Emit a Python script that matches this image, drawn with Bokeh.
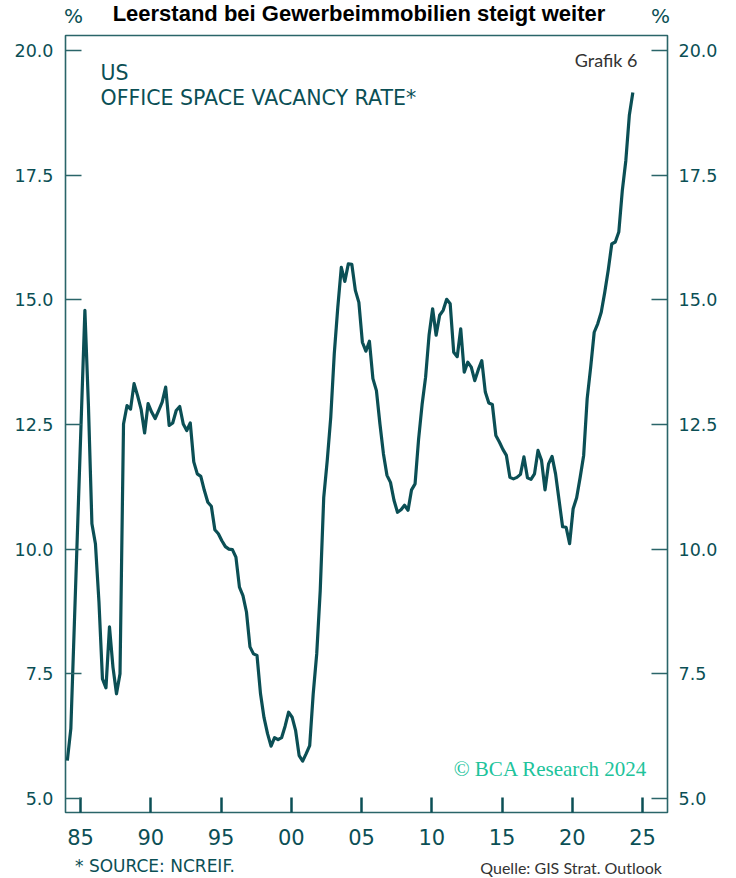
from bokeh.plotting import figure
from bokeh.models import LinearAxis, FixedTicker, PrintfTickFormatter, Label, Range1d, Div
from bokeh.layouts import column
from bokeh.embed import file_html
from bokeh.resources import INLINE
import pandas as pd

# ---------------- data ----------------
start_period = "1984Q1"
end_period = "2024Q2"
vacancy = [
    5.76, 6.40, 8.50, 10.60,      # 1984
    12.70, 14.79, 12.90, 10.51,   # 1985
    10.11, 8.95, 7.40, 7.22,      # 1986
    8.44, 7.63, 7.10, 7.50,       # 1987
    12.51, 12.88, 12.81, 13.32,   # 1988
    13.08, 12.81, 12.33, 12.92,   # 1989
    12.75, 12.62, 12.78, 12.95,   # 1990
    13.25, 12.48, 12.53, 12.78,   # 1991
    12.86, 12.51, 12.38, 12.53,   # 1992
    11.75, 11.51, 11.46, 11.18,   # 1993
    10.94, 10.86, 10.39, 10.31,   # 1994
    10.17, 10.05, 10.00, 9.99,    # 1995
    9.84, 9.24, 9.07, 8.74,       # 1996
    8.04, 7.90, 7.87, 7.10,       # 1997
    6.62, 6.30, 6.05, 6.22,       # 1998
    6.18, 6.22, 6.45, 6.73,       # 1999
    6.63, 6.36, 5.86, 5.75,       # 2000
    5.90, 6.06, 7.10, 7.90,       # 2001
    9.17, 11.04, 11.78, 12.65,    # 2002
    13.92, 14.85, 15.65, 15.37,   # 2003
    15.72, 15.71, 15.19, 14.95,   # 2004
    14.15, 13.97, 14.17, 13.42,   # 2005
    13.18, 12.51, 11.91, 11.48,   # 2006
    11.34, 10.98, 10.74, 10.79,   # 2007
    10.88, 10.78, 11.19, 11.31,   # 2008
    12.20, 12.90, 13.45, 14.30,   # 2009
    14.82, 14.29, 14.69, 14.79,   # 2010
    15.01, 14.92, 13.95, 13.86,   # 2011
    14.42, 13.55, 13.75, 13.65,   # 2012
    13.38, 13.60, 13.78, 13.15,   # 2013
    12.93, 12.90, 12.28, 12.15,   # 2014
    12.00, 11.88, 11.44, 11.41,   # 2015
    11.44, 11.50, 11.85, 11.43,   # 2016
    11.40, 11.51, 11.98, 11.78,   # 2017
    11.19, 11.71, 11.86, 11.51,   # 2018
    10.98, 10.45, 10.44, 10.11,   # 2019
    10.81, 11.03, 11.44, 11.88,   # 2020
    13.02, 13.65, 14.35, 14.52,   # 2021
    14.75, 15.15, 15.60, 16.12,   # 2022
    16.16, 16.36, 17.19, 17.79,   # 2023
    18.70, 19.16,                 # 2024
]
y_ticks = [5.0, 7.5, 10.0, 12.5, 15.0, 17.5, 20.0]
x_tick_years = [1985, 1990, 1995, 2000, 2005, 2010, 2015, 2020, 2025]
x_tick_labels = ["85", "90", "95", "00", "05", "10", "15", "20", "25"]

title_text = "Leerstand bei Gewerbeimmobilien steigt weiter"
unit_text = "%"
series_name = "US"
series_desc = "OFFICE SPACE VACANCY RATE*"
chart_no = "Grafik 6"
copyright_text = "© BCA Research 2024"
footnote = "* SOURCE: NCREIF."
source_text = "Quelle: GIS Strat. Outlook"

# ---------------- dates ----------------
periods = pd.period_range(start_period, end_period, freq="Q")
dates = [pr.year + (pr.quarter - 0.75) / 4.0 for pr in periods]

TEAL = "#0b4f55"
FRAME = "#2a6569"
SANS = "DejaVu Sans"

TOP_H = 26      # header strip height
BOT_H = 23      # footer strip height
FIG_H = 878 - TOP_H - BOT_H

# page px -> data (frame spans page x 65..667, page y 35..812)
def X(px):
    return 1985 + (px - 80) / 14.05

def Y(py):
    return 20 - (py - 50) / 49.8667

# ---------------- header ----------------
header_html = (
    f'<div style="position:relative;width:736px;height:{TOP_H}px;">'
    f'<span style="position:absolute;left:0;width:718px;top:1px;text-align:center;'
    f'font-family:\'Liberation Sans\';font-weight:bold;font-size:22px;line-height:25px;'
    f'color:#000;white-space:nowrap;">{title_text}</span>'
    f'<span style="position:absolute;left:64px;top:6px;font-family:\'DejaVu Sans\';'
    f'font-size:20px;line-height:20px;color:{TEAL};">{unit_text}</span>'
    f'<span style="position:absolute;left:651px;top:6px;font-family:\'DejaVu Sans\';'
    f'font-size:20px;line-height:20px;color:{TEAL};">{unit_text}</span>'
    '</div>'
)
header = Div(text=header_html, width=736, height=TOP_H, margin=0)

# ---------------- footer ----------------
footer_html = (
    f'<div style="position:relative;width:736px;height:{BOT_H}px;">'
    f'<span style="position:absolute;left:75px;top:3px;font-family:\'DejaVu Sans\';'
    f'font-size:17px;line-height:17px;color:{TEAL};white-space:nowrap;">{footnote}</span>'
    f'<span style="position:absolute;right:74px;top:5px;font-family:Lato;'
    f'font-size:16px;line-height:16px;color:#333;white-space:nowrap;">{source_text}</span>'
    '</div>'
)
footer = Div(text=footer_html, width=736, height=BOT_H, margin=0)

# ---------------- figure ----------------
p = figure(width=736, height=FIG_H,
           x_range=Range1d(X(65), X(667)), y_range=Range1d(Y(812), Y(35)),
           output_backend="svg", toolbar_location=None, title_location=None,
           min_border_left=65, min_border_right=69,
           min_border_top=35 - TOP_H, min_border_bottom=(878 - BOT_H) - 812,
           background_fill_color="white", border_fill_color="white", margin=0)

p.outline_line_color = FRAME
p.outline_line_width = 1.6
p.grid.visible = False

ya = p.yaxis[0]
ya.ticker = FixedTicker(ticks=y_ticks)
ya.formatter = PrintfTickFormatter(format="%.1f")
ya.axis_line_color = None
ya.major_tick_in = 16
ya.major_tick_out = 0
ya.minor_tick_line_color = None
ya.major_tick_line_color = FRAME
ya.major_tick_line_width = 1.6
ya.major_label_standoff = 12
ya.major_label_text_font = SANS
ya.major_label_text_font_size = "17.5px"
ya.major_label_text_color = TEAL

ra = LinearAxis(ticker=FixedTicker(ticks=y_ticks),
                formatter=PrintfTickFormatter(format="%.1f"))
ra.axis_line_color = None
ra.major_tick_in = 16
ra.major_tick_out = 0
ra.minor_tick_line_color = None
ra.major_tick_line_color = FRAME
ra.major_tick_line_width = 1.6
ra.major_label_standoff = 11
ra.major_label_text_font = SANS
ra.major_label_text_font_size = "17.5px"
ra.major_label_text_color = TEAL
p.add_layout(ra, "right")

xa = p.xaxis[0]
xa.ticker = FixedTicker(ticks=x_tick_years)
xa.major_label_overrides = {yr: lab for yr, lab in zip(x_tick_years, x_tick_labels)}
xa.axis_line_color = None
xa.major_tick_in = 15
xa.major_tick_out = 0
xa.minor_tick_line_color = None
xa.major_tick_line_color = TEAL
xa.major_tick_line_width = 2.5
xa.major_label_standoff = 16
xa.major_label_text_font = SANS
xa.major_label_text_font_size = "21px"
xa.major_label_text_color = TEAL

p.line(dates, vacancy, line_width=3.2, line_color=TEAL, line_join="round")

SHIFT = 8  # observed label baseline offset

def add_label(px, py, text, align="left", font=SANS, size="20px", color=TEAL):
    p.add_layout(Label(x=X(px), y=Y(py - SHIFT), text=text, text_align=align,
                       text_baseline="alphabetic", text_font=font,
                       text_font_size=size, text_color=color))

add_label(100, 80, series_name, size="20.5px")
add_label(100, 105.5, series_desc, size="20.5px")
add_label(637, 67, chart_no, align="right", font="Lato", size="18px", color="#333333")
add_label(647, 776, copyright_text, align="right", font="Liberation Serif",
          size="21px", color="#20c39b")

layout = column(header, p, footer, spacing=0)
open("out.html", "w").write(file_html(layout, INLINE))
